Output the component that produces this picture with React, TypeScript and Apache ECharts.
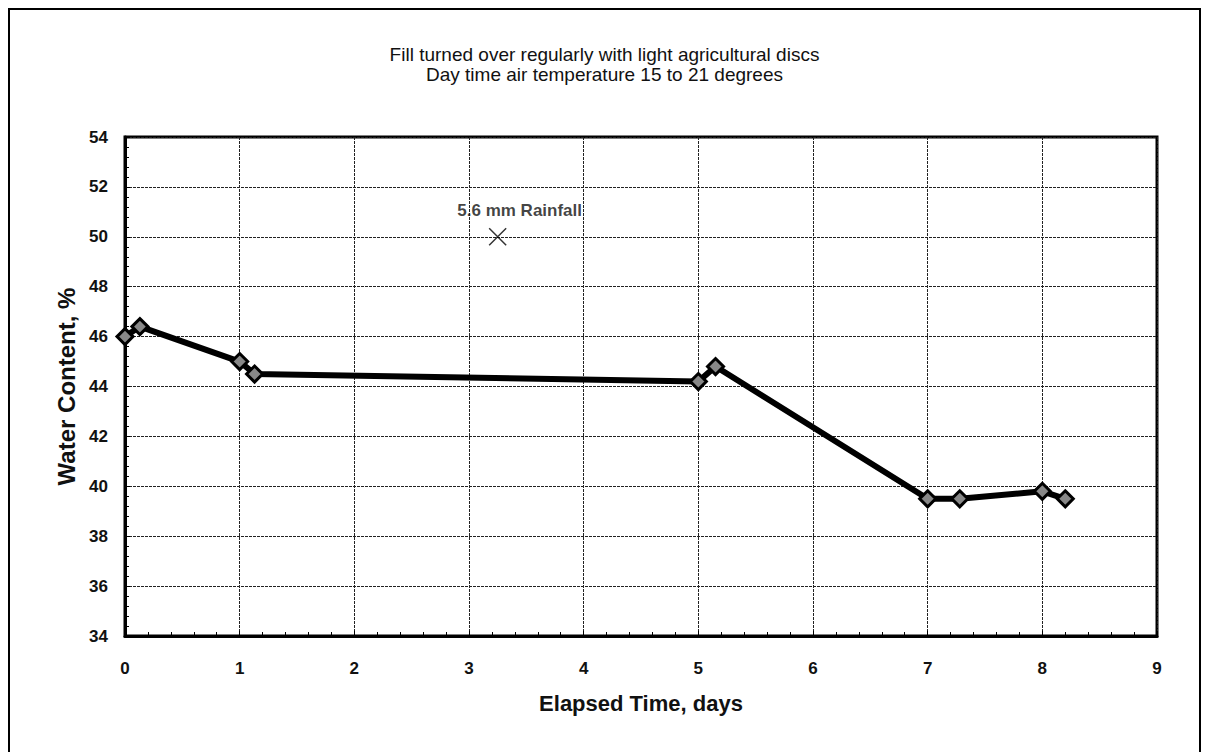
import React, { useEffect, useRef } from "react";
import * as echarts from "echarts";

const titleLines = [
  "Fill turned over regularly with light agricultural discs",
  "Day time air temperature 15 to 21 degrees",
];
const elapsedDays = [0, 0.13, 1.0, 1.13, 5.0, 5.15, 7.0, 7.28, 8.0, 8.2];
const waterContent = [46.0, 46.4, 45.0, 44.5, 44.2, 44.8, 39.5, 39.5, 39.8, 39.5];
const rainfallPoint = [3.25, 50];
const rainfallLabel = "5.6 mm Rainfall";
const xAxisName = "Elapsed Time, days";
const yAxisName = "Water Content, %";

export default function App() {
  const ref = useRef<HTMLDivElement>(null);
  useEffect(() => {
    if (!ref.current) return;
    const chart = echarts.init(ref.current, null, { renderer: "svg" });
    const font = "Liberation Sans, Arial, sans-serif";
    chart.setOption({
      animation: false,
      backgroundColor: "#fff",
      textStyle: { fontFamily: font },
      title: {
        text: titleLines.join("\n"),
        left: "center",
        top: 31,
        textStyle: { fontFamily: font, fontSize: 19, fontWeight: "normal", color: "#111", lineHeight: 20 },
      },
      graphic: [
        {
          type: "rect",
          shape: { x: 1, y: 1, width: 1191, height: 800 },
          style: { fill: "none", stroke: "#000", lineWidth: 2 },
          silent: true,
        },
      ],
      grid: {
        left: 117,
        right: 44,
        top: 129,
        bottom: 116,
        show: true,
        borderColor: "#000",
        borderWidth: 3,
        backgroundColor: "transparent",
      },
      xAxis: {
        type: "value",
        min: 0,
        max: 9,
        interval: 1,
        name: xAxisName,
        nameLocation: "middle",
        nameGap: 56,
        nameTextStyle: { fontFamily: font, fontSize: 22, fontWeight: "bold", color: "#111" },
        axisLine: { show: true, lineStyle: { color: "#000", width: 3 } },
        axisTick: { show: true, inside: true, length: 5, lineStyle: { color: "#000" } },
        minorTick: { show: true, splitNumber: 5, length: 4, lineStyle: { color: "#000" } },
        axisLabel: { margin: 24, fontFamily: font, fontSize: 17, fontWeight: "bold", color: "#111" },
        splitLine: { show: true, lineStyle: { color: "#222", width: 1, type: [3, 1] } },
      },
      yAxis: {
        type: "value",
        min: 34,
        max: 54,
        interval: 2,
        name: yAxisName,
        nameLocation: "middle",
        nameGap: 45,
        nameTextStyle: { fontFamily: font, fontSize: 24, fontWeight: "bold", color: "#111" },
        axisLine: { show: true, lineStyle: { color: "#000", width: 3 } },
        axisTick: { show: true, inside: true, length: 5, lineStyle: { color: "#000" } },
        minorTick: { show: true, splitNumber: 5, length: 4, lineStyle: { color: "#000" } },
        axisLabel: { margin: 17, fontFamily: font, fontSize: 17, fontWeight: "bold", color: "#111" },
        splitLine: { show: true, lineStyle: { color: "#222", width: 1, type: [3, 1] } },
      },
      series: [
        {
          type: "line",
          data: elapsedDays.map((d, i) => [d, waterContent[i]]),
          smooth: false,
          lineStyle: { color: "#000", width: 6 },
          symbol: "diamond",
          symbolSize: 16,
          itemStyle: { color: "#888", borderColor: "#000", borderWidth: 3 },
          z: 5,
        },
        {
          type: "scatter",
          data: [rainfallPoint],
          symbol: "path://M0,0L10,10M10,0L0,10",
          symbolSize: 17,
          itemStyle: { color: "transparent", borderColor: "#000", borderWidth: 1.5 },
          label: {
            show: true,
            position: "top",
            formatter: rainfallLabel,
            offset: [22, -4],
            fontFamily: font,
            fontSize: 17,
            fontWeight: "bold",
            color: "#111",
          },
          z: 6,
        },
      ],
    });
    return () => chart.dispose();
  }, []);
  return <div ref={ref} style={{ width: 1193, height: 744 }} />;
}
